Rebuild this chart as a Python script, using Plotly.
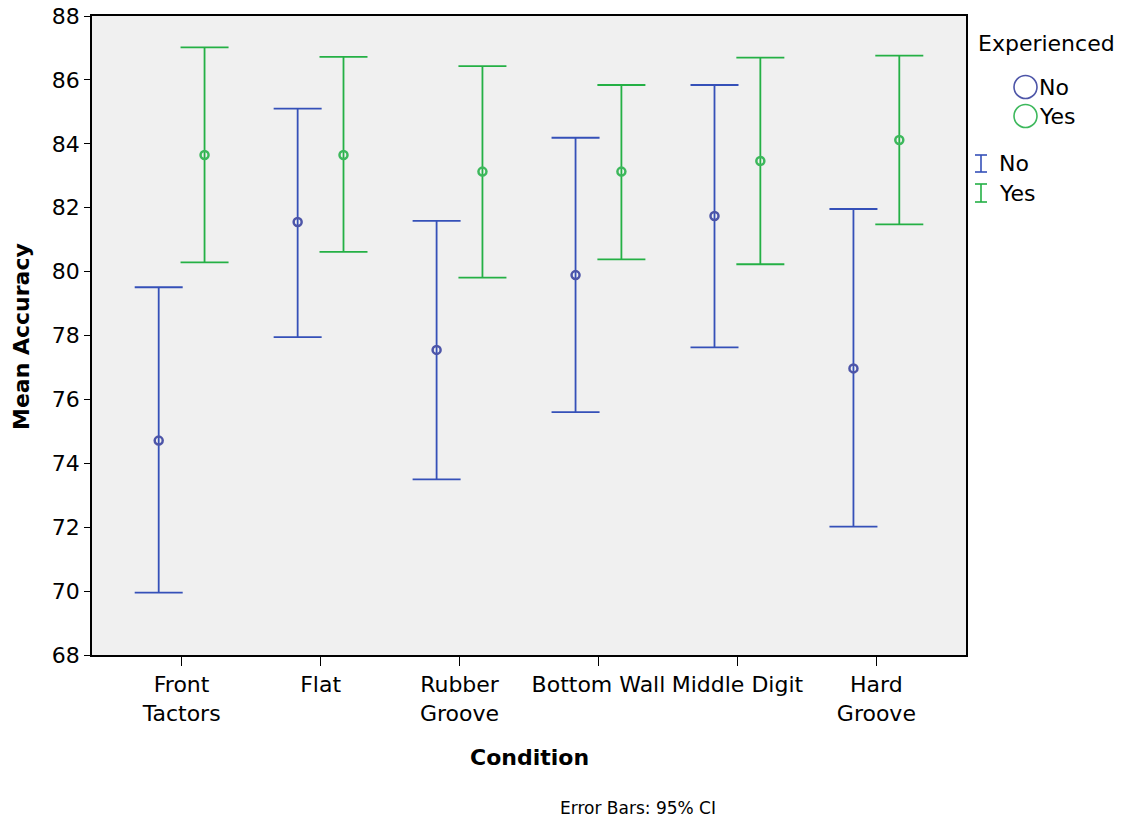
import plotly.graph_objects as go

# Condition means and 95% confidence limits for each experience group
conditions = ["Front<br>Tactors", "Flat", "Rubber<br>Groove", "Bottom Wall", "Middle Digit", "Hard<br>Groove"]

no_mean = [74.71, 81.55, 77.55, 79.89, 81.74, 76.97]
no_upper = [79.51, 85.10, 81.59, 84.19, 85.84, 81.96]
no_lower = [69.95, 77.95, 73.50, 75.60, 77.63, 72.02]

yes_mean = [83.65, 83.65, 83.13, 83.13, 83.46, 84.12]
yes_upper = [87.02, 86.72, 86.43, 85.84, 86.70, 86.76]
yes_lower = [80.29, 80.62, 79.81, 80.38, 80.23, 81.48]

y_ticks = [68, 70, 72, 74, 76, 78, 80, 82, 84, 86, 88]

BLUE = "#3550b8"
BLUE_MK = "#4d55a8"
GREEN = "#24b045"
GREEN_MK = "#3db85c"
FONT = "DejaVu Sans, Arial, sans-serif"

# plot-area geometry in pixels (figure is 1128 x 823)
W, H = 1128, 823
L, R, T, B = 92, 966, 16, 655


def px(x):
    return (x - L) / (R - L)


def py(y):
    return (B - y) / (B - T)


fig = go.Figure()


def add_group(name, means, upper, lower, line_color, marker_color):
    fig.add_trace(go.Scatter(
        x=conditions, y=means, name=name, mode="markers",
        offsetgroup=name,
        marker=dict(symbol="circle-open", size=8, color=marker_color,
                    line=dict(width=2.5, color=marker_color)),
        error_y=dict(type="data", symmetric=False,
                     array=[u - m for u, m in zip(upper, means)],
                     arrayminus=[m - lo for m, lo in zip(means, lower)],
                     color=line_color, thickness=1.8, width=24),
        showlegend=False,
        hoverinfo="x+y",
    ))


add_group("No", no_mean, no_upper, no_lower, BLUE, BLUE_MK)
add_group("Yes", yes_mean, yes_upper, yes_lower, GREEN, GREEN_MK)

shapes = []
annotations = []

# legend: group title, marker symbols, error-bar symbols
annotations.append(dict(x=px(976), y=py(44), xref="paper", yref="paper", text="Experienced",
                        showarrow=False, xanchor="left", yanchor="middle",
                        font=dict(size=22, color="black", family=FONT)))
for cy, col, label in [(87, BLUE_MK, "No"), (116, GREEN_MK, "Yes")]:
    shapes.append(dict(type="circle", xref="paper", yref="paper",
                       x0=px(1014), x1=px(1037), y0=py(cy - 11.5), y1=py(cy + 11.5),
                       line=dict(color=col, width=1.6)))
    annotations.append(dict(x=px(1037), y=py(cy + 1), xref="paper", yref="paper", text=label,
                            showarrow=False, xanchor="left", yanchor="middle",
                            font=dict(size=22, color="black", family=FONT)))
for y0, y1, col, label in [(155, 172, BLUE, "No"), (184, 202, GREEN, "Yes")]:
    shapes.append(dict(type="line", xref="paper", yref="paper",
                       x0=px(981), x1=px(981), y0=py(y0), y1=py(y1), line=dict(color=col, width=1.6)))
    for yy in (y0, y1):
        shapes.append(dict(type="line", xref="paper", yref="paper",
                           x0=px(975), x1=px(987), y0=py(yy), y1=py(yy), line=dict(color=col, width=1.6)))
    annotations.append(dict(x=px(997), y=py((y0 + y1) / 2), xref="paper", yref="paper", text=label,
                            showarrow=False, xanchor="left", yanchor="middle",
                            font=dict(size=22, color="black", family=FONT)))

# axis titles and footnote
annotations.append(dict(x=px(22), y=py(337), xref="paper", yref="paper", text="<b>Mean Accuracy</b>",
                        textangle=-90, showarrow=False, xanchor="center", yanchor="middle",
                        font=dict(size=22, color="black", family=FONT)))
annotations.append(dict(x=px(529), y=py(757), xref="paper", yref="paper", text="<b>Condition</b>",
                        showarrow=False, xanchor="center", yanchor="middle",
                        font=dict(size=22, color="black", family=FONT)))
annotations.append(dict(x=px(638), y=py(808), xref="paper", yref="paper", text="Error Bars: 95% CI",
                        showarrow=False, xanchor="center", yanchor="middle",
                        font=dict(size=17, color="black", family=FONT)))

fig.update_layout(
    width=W, height=H,
    margin=dict(l=L, r=W - R, t=T, b=H - B, pad=0),
    paper_bgcolor="white",
    plot_bgcolor="#f0f0f0",
    scattermode="group",
    scattergap=0.34,
    showlegend=False,
    font=dict(family=FONT, color="black", size=22),
    shapes=shapes,
    annotations=annotations,
)
fig.update_xaxes(
    type="category", range=[-0.645, 5.645], automargin=False,
    showline=True, linecolor="black", linewidth=1.5, mirror=True,
    ticks="outside", ticklen=9, tickwidth=1, tickcolor="black",
    showgrid=False, zeroline=False,
    tickfont=dict(size=22, family=FONT, color="black"),
)
fig.update_yaxes(
    range=[68, 88], tickvals=y_ticks, automargin=False,
    showline=True, linecolor="black", linewidth=1.5, mirror=True,
    ticks="outside", ticklen=6, tickwidth=1, tickcolor="black",
    showgrid=False, zeroline=False,
    tickfont=dict(size=22, family=FONT, color="black"),
)

fig.write_html("out.html")
